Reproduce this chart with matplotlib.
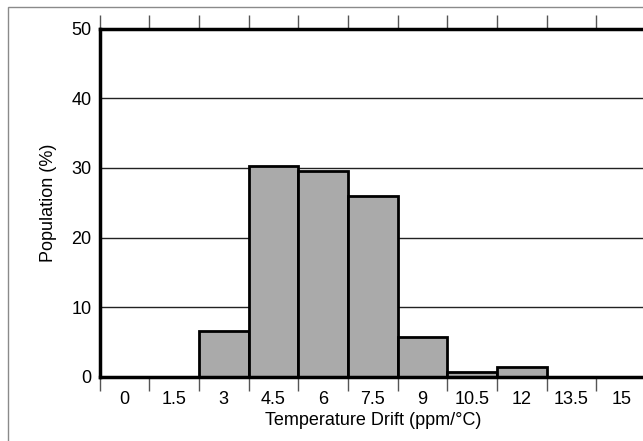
import numpy as np
import matplotlib.pyplot as plt
from matplotlib.patches import Rectangle

plt.rcParams['font.family'] = ['Liberation Sans', 'DejaVu Sans']

# histogram data
drift_bins = [0, 1.5, 3, 4.5, 6, 7.5, 9, 10.5, 12, 13.5, 15]
bin_labels = ['0', '1.5', '3', '4.5', '6', '7.5', '9', '10.5', '12', '13.5', '15']
population = [0, 0, 6.5, 30.3, 29.5, 25.9, 5.75, 0.7, 1.45, 0, 0]
bin_width = 1.5

fig = plt.figure(figsize=(6.43, 4.41), dpi=100)

# light outer frame, clipped by the figure edge on the right and bottom
fig.patches.append(Rectangle((8 / 643, -0.05), 1.1, 1.05 - 6.7 / 441,
                             transform=fig.transFigure, fill=False,
                             edgecolor='#8a8a8a', linewidth=1.0))

ax = fig.add_axes([99.6 / 643, 1 - 376.7 / 441, (646 - 99.6) / 643, (376.7 - 28.7) / 441])

ax.bar(drift_bins, population, width=bin_width, color='#aaaaaa',
       edgecolor='black', linewidth=2.0, zorder=3)

ax.set_xlim(drift_bins[0] - bin_width / 2, drift_bins[-1] + bin_width / 2)
ax.set_ylim(0, 50)

edges = np.array(drift_bins) - bin_width / 2
ax.set_xticks(drift_bins)
ax.set_xticklabels(bin_labels, fontsize=13)
ax.set_xticks(edges, minor=True)
ax.tick_params(axis='x', which='major', length=0, pad=10)
ax.tick_params(axis='x', which='minor', direction='out', length=10, width=1,
               color='#555555', top=True, bottom=True)

ax.set_yticks([0, 10, 20, 30, 40, 50])
ax.tick_params(axis='y', length=0, pad=6, labelsize=13)
ax.yaxis.grid(True, color='#222222', linewidth=1.0, zorder=0)
ax.set_axisbelow(True)

for side in ['left', 'top', 'bottom']:
    ax.spines[side].set_linewidth(2.5)
    ax.spines[side].set_color('black')
    ax.spines[side].set_zorder(4)
ax.spines['right'].set_visible(False)

ax.set_xlabel('Temperature Drift (ppm/\u00b0C)', fontsize=13, labelpad=3)
ax.set_ylabel('Population (%)', fontsize=13, labelpad=10)

fig.savefig('out.png', dpi=100)
